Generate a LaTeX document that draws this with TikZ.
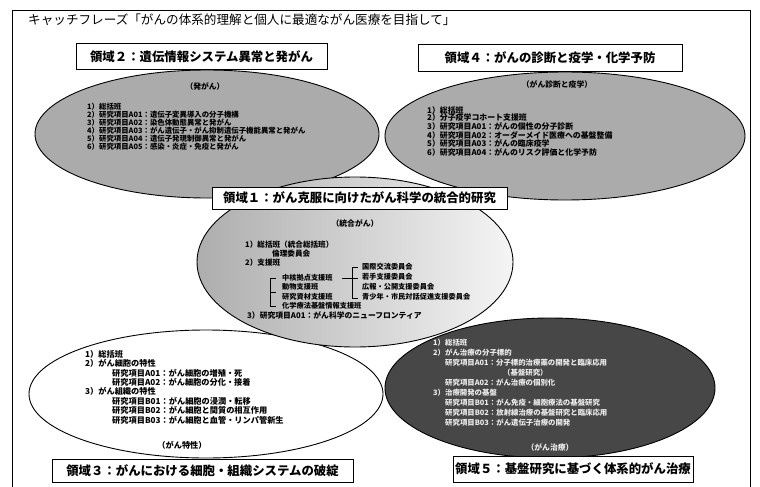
\documentclass[tikz,border=0pt]{standalone}
\usepackage{fontspec}
\newfontfamily\jp{Noto Sans CJK JP}
\usetikzlibrary{shapes.geometric}
\tikzset{
  oval/.style={ellipse, draw=black, line width=0.9pt, inner sep=0pt},
  labelbox/.style={draw=black, line width=1pt, fill=white, inner sep=0pt,
    font=\jp\bfseries\fontsize{12.4}{14}\selectfont},
  body/.style={anchor=north west, align=left, inner sep=0pt,
    font=\jp\bfseries\fontsize{7.4}{8}\selectfont},
  bracketline/.style={draw=black, line width=0.7pt}
}
\begin{document}
\begin{tikzpicture}[x=1pt,y=-1pt]
\useasboundingbox (0,0) rectangle (760,487);
\fill[white] (0,0) rectangle (760,487);
% outer frame
\node[draw=black, line width=1pt, minimum width=738pt, minimum height=476pt, inner sep=0pt] (frame) at (381,249) {};
% title
\node[anchor=west, inner sep=0pt, font=\jp\fontsize{12.6}{14}\selectfont] (title) at (28,20)
  {キャッチフレーズ「がんの体系的理解と個人に最適ながん医療を目指して」};

% ellipses
\node[oval, fill=black!33, minimum width=344pt, minimum height=128pt] (e2) at (207,134) {};
\node[oval, fill=black!33, minimum width=360pt, minimum height=128pt] (e4) at (565,136) {};
\node[oval, fill=white, minimum width=354pt, minimum height=128pt] (e3) at (206,394) {};
\node[oval, fill=black!72, minimum width=330pt, minimum height=140pt] (e5) at (550,388) {};
\node[oval, left color=black!32, right color=black!4, minimum width=316pt, minimum height=170pt] (e1) at (355,262) {};

% label boxes
\node[labelbox, minimum width=251pt, minimum height=26pt] (b2) at (201.5,57) {領域２：遺伝情報システム異常と発がん};
\node[labelbox, minimum width=264pt, minimum height=27pt] (b4) at (550,58) {領域４：がんの診断と疫学・化学予防};
\node[labelbox, minimum width=295pt, minimum height=22pt] (b1) at (359.5,198) {領域１：がん克服に向けたがん科学の統合的研究};
\node[labelbox, minimum width=301pt, minimum height=23pt] (b3) at (202.5,471) {領域３：がんにおける細胞・組織システムの破綻};
\node[labelbox, minimum width=240pt, minimum height=26pt] (b5) at (573,469) {領域５：基盤研究に基づく体系的がん治療};

% area 2 text
\node[inner sep=0pt, font=\jp\bfseries\fontsize{7.8}{8}\selectfont] (t2h) at (205,86) {（発がん）};
\node[body] (t2) at (87,103) {%
1）総括班\\
2）研究項目A01：遺伝子変異導入の分子機構\\
3）研究項目A02：染色体動態異常と発がん\\
4）研究項目A03：がん遺伝子・がん抑制遺伝子機能異常と発がん\\
5）研究項目A04：遺伝子発現制御異常と発がん\\
6）研究項目A05：感染・炎症・免疫と発がん};

% area 4 text
\node[inner sep=0pt, font=\jp\bfseries\fontsize{7.8}{8}\selectfont] (t4h) at (557,84) {（がん診断と疫学）};
\node[body, font=\jp\bfseries\fontsize{7.9}{7.7}\selectfont] (t4) at (427,106) {%
1）総括班\\
2）分子疫学コホート支援班\\
3）研究項目A01：がんの個性の分子診断\\
4）研究項目A02：オーダーメイド医療への基盤整備\\
5）研究項目A03：がんの臨床疫学\\
6）研究項目A04：がんのリスク評価と化学予防};

% area 1 text
\node[inner sep=0pt, font=\jp\bfseries\fontsize{7.8}{8}\selectfont] (t1h) at (355,223) {（統合がん）};
\node[body, font=\jp\bfseries\fontsize{7.6}{9}\selectfont] (t1a) at (245,241) {%
1）総括班（統合総括班）\\
\hspace*{27pt}倫理委員会\\
2）支援班};
\node[body, font=\jp\bfseries\fontsize{7.2}{9.5}\selectfont] (t1l) at (282,274) {%
中核拠点支援班\\
動物支援班\\
研究資材支援班\\
化学療法基盤情報支援班};
\node[body, font=\jp\bfseries\fontsize{7.2}{10}\selectfont] (t1r) at (362,263) {%
国際交流委員会\\
若手支援委員会\\
広報・公開支援委員会\\
青少年・市民対話促進支援委員会};
\node[body, font=\jp\bfseries\fontsize{7.8}{8}\selectfont] (t1b) at (247,311) {3）研究項目A01：がん科学のニューフロンティア};
% brackets
\coordinate (lbT) at (270,278);
\coordinate (lbB) at (270,306);
\draw[bracketline] ([xshift=6pt]lbT) -- (lbT) -- (lbB) -- ([xshift=6pt]lbB);
\draw[bracketline] (270,292) -- (276,292);
\coordinate (rbT) at (352,267);
\coordinate (rbB) at (352,298);
\draw[bracketline] ([xshift=6pt]rbT) -- (rbT) -- (rbB) -- ([xshift=6pt]rbB);
\coordinate (hL) at (342,278);
\coordinate (hR) at (358,278);
\draw[bracketline] (hL) -- (hR);

% area 3 text
\node[body, font=\jp\bfseries\fontsize{8.2}{9.4}\selectfont] (t3) at (85,350) {%
1）総括班\\
2）がん細胞の特性\\
\hspace*{27pt}研究項目A01：がん細胞の増殖・死\\
\hspace*{27pt}研究項目A02：がん細胞の分化・接着\\
3）がん組織の特性\\
\hspace*{27pt}研究項目B01：がん細胞の浸潤・転移\\
\hspace*{27pt}研究項目B02：がん細胞と間質の相互作用\\
\hspace*{27pt}研究項目B03：がん細胞と血管・リンパ管新生};
\node[inner sep=0pt, font=\jp\bfseries\fontsize{8.2}{8}\selectfont] (t3h) at (182,445) {（がん特性）};

% area 5 text
\node[body, text=black!8, font=\jp\bfseries\fontsize{7.4}{10}\selectfont] (t5) at (433,339) {%
1）総括班\\
2）がん治療の分子標的\\
\hspace*{12pt}研究項目A01：分子標的治療薬の開発と臨床応用\\
\hspace*{70pt}（基盤研究）\\
\hspace*{12pt}研究項目A02：がん治療の個別化\\
3）治療開発の基盤\\
\hspace*{12pt}研究項目B01：がん免疫・細胞療法の基盤研究\\
\hspace*{12pt}研究項目B02：放射線治療の基盤研究と臨床応用\\
\hspace*{12pt}研究項目B03：がん遺伝子治療の開発};
\node[inner sep=0pt, text=black!8, font=\jp\bfseries\fontsize{7.8}{8}\selectfont] (t5h) at (550,447) {（がん治療）};
\end{tikzpicture}
\end{document}
